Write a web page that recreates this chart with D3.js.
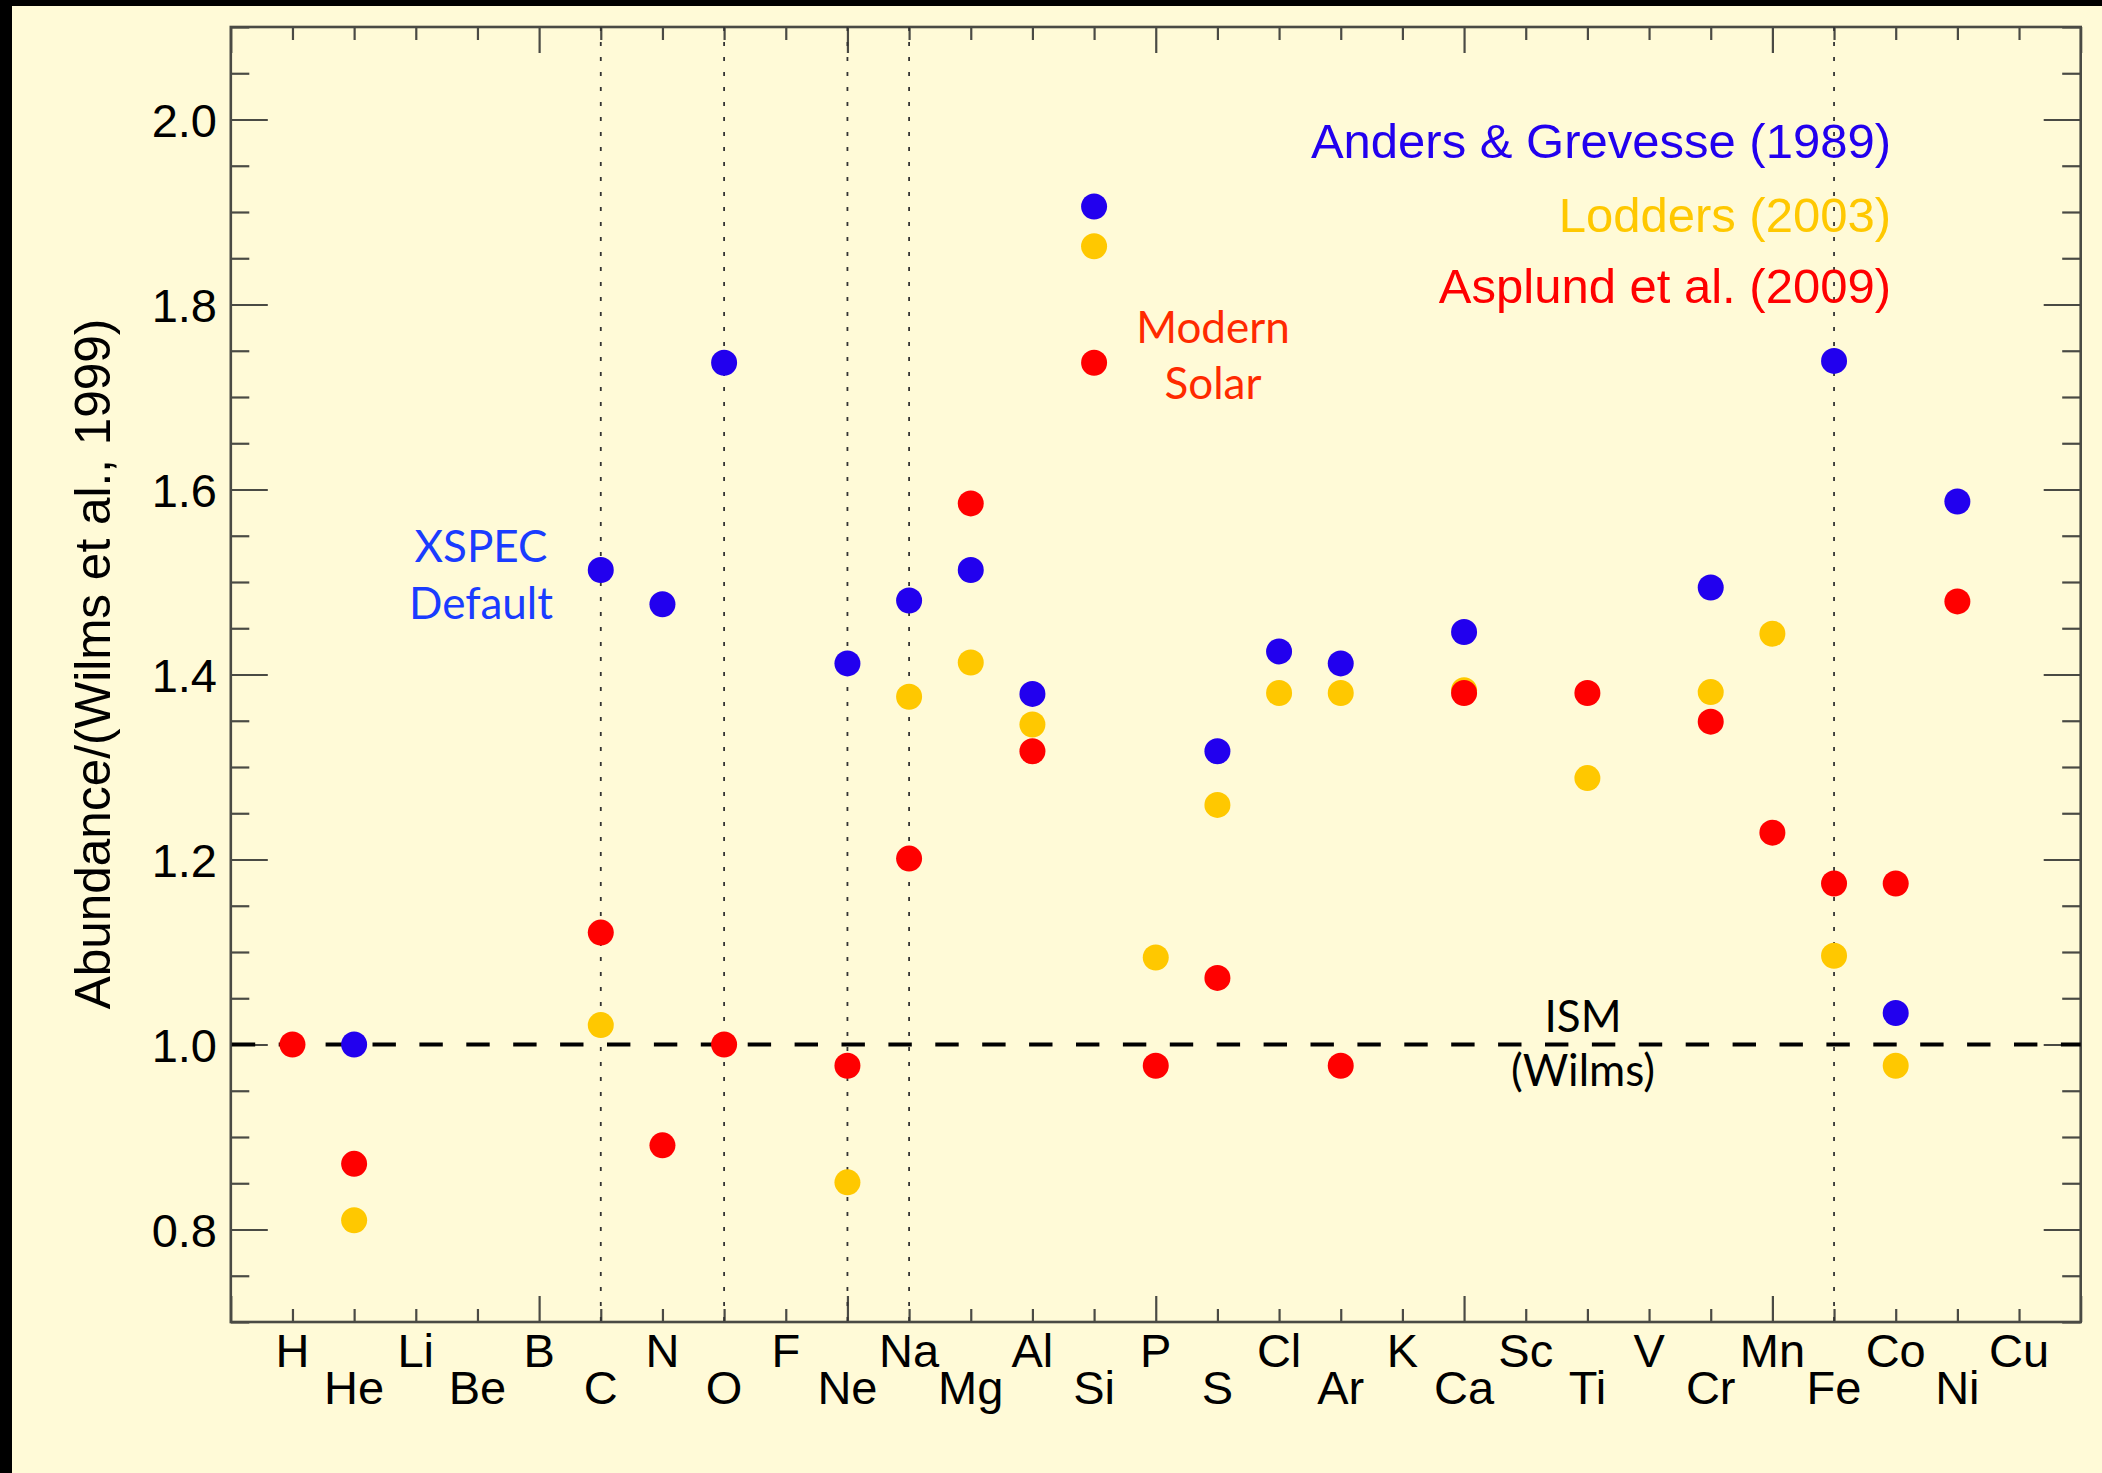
<!DOCTYPE html>
<html>
<head>
<meta charset="utf-8">
<script src="https://cdn.jsdelivr.net/npm/d3@7"></script>
<style>
  html, body { margin: 0; padding: 0; background: #000; }
  svg { display: block; }
</style>
</head>
<body>
<svg id="chart" width="2102" height="1473"></svg>
<script>
// Element symbols, Z = 1 .. 29
const symbols = ["H","He","Li","Be","B","C","N","O","F","Ne","Na","Mg","Al","Si","P",
                 "S","Cl","Ar","K","Ca","Sc","Ti","V","Cr","Mn","Fe","Co","Ni","Cu"];

// Abundance ratios relative to Wilms et al. (2000) ISM, one entry per symbol (null = not plotted)
const andersGrevesse = [null,1.000,null,null,null,1.513,1.476,1.737,null,1.412,1.480,1.513,1.379,1.906,null,
                        1.317,1.425,1.412,null,1.446,null,null,null,1.494,null,1.739,1.034,1.587,null];
const lodders        = [null,0.810,null,null,null,1.021,null,null,null,0.851,1.376,1.413,1.346,1.863,1.094,
                        1.259,1.380,1.380,null,1.383,null,1.288,null,1.381,1.444,1.096,0.977,null,null];
const asplund        = [1.000,0.871,null,null,null,1.121,0.891,1.000,null,0.977,1.201,1.585,1.317,1.737,0.977,
                        1.072,null,0.977,null,1.380,null,1.380,null,1.349,1.229,1.174,1.174,1.479,null];

const seriesNames = ["Anders & Grevesse (1989)", "Lodders (2003)", "Asplund et al. (2009)"];
const seriesColors = ["#2200ee", "#ffc800", "#ff0000"];

// Elements marked with vertical dotted guides
const guideZ = [6, 8, 10, 11, 26];

// Axis ranges and ticks
const xDomain = [0, 30];
const yDomain = [0.7, 2.1];
const yMajorTicks = [0.8, 1.0, 1.2, 1.4, 1.6, 1.8, 2.0];
const ismLevel = 1.0;

const W = 2102, H = 1473;
const plot = { left: 230.8, right: 2080.7, top: 27, bottom: 1322 };

const svg = d3.select("#chart");

// background and frame band
svg.append("rect").attr("width", W).attr("height", H).attr("fill", "#fffad7");
svg.append("rect").attr("x", 0).attr("y", 0).attr("width", W).attr("height", 6).attr("fill", "#000");
svg.append("rect").attr("x", 0).attr("y", 0).attr("width", 12).attr("height", H).attr("fill", "#000");

const x = d3.scaleLinear().domain(xDomain).range([plot.left, plot.right]);
const y = d3.scaleLinear().domain(yDomain).range([plot.bottom, plot.top]);

const axisColor = "#4a4a44";
const allZ = d3.range(xDomain[0], xDomain[1] + 1);
const majorZ = allZ.filter(z => z % 5 === 0);
const minorZ = allZ.filter(z => z % 5 !== 0);
const yMinor = d3.range(0, 29).map(i => +(0.7 + i * 0.05).toFixed(2))
  .filter(v => !yMajorTicks.some(m => Math.abs(m - v) < 1e-6));

function styleAxis(g) {
  g.select(".domain").remove();
  g.selectAll(".tick line").attr("stroke", axisColor).attr("stroke-width", 2.2);
  g.selectAll(".tick text").remove();
}

// inward ticks on all four sides
const xTickLen = 26, yTickLen = 37;
[[majorZ, xTickLen], [minorZ, xTickLen / 2]].forEach(([vals, len]) => {
  svg.append("g").attr("transform", `translate(0,${plot.bottom})`)
    .call(d3.axisBottom(x).tickValues(vals).tickSize(-len).tickSizeOuter(0)).call(styleAxis);
  svg.append("g").attr("transform", `translate(0,${plot.top})`)
    .call(d3.axisTop(x).tickValues(vals).tickSize(-len).tickSizeOuter(0)).call(styleAxis);
});
[[yMajorTicks, yTickLen], [yMinor, yTickLen / 2]].forEach(([vals, len]) => {
  svg.append("g").attr("transform", `translate(${plot.left},0)`)
    .call(d3.axisLeft(y).tickValues(vals).tickSize(-len).tickSizeOuter(0)).call(styleAxis);
  svg.append("g").attr("transform", `translate(${plot.right},0)`)
    .call(d3.axisRight(y).tickValues(vals).tickSize(-len).tickSizeOuter(0)).call(styleAxis);
});

// plot frame
svg.append("rect")
  .attr("x", plot.left).attr("y", plot.top)
  .attr("width", plot.right - plot.left).attr("height", plot.bottom - plot.top)
  .attr("fill", "none").attr("stroke", axisColor).attr("stroke-width", 2.6);

// vertical dotted guides
svg.append("g").selectAll("line").data(guideZ).join("line")
  .attr("x1", d => x(d)).attr("x2", d => x(d))
  .attr("y1", plot.top).attr("y2", plot.bottom)
  .attr("stroke", "#333").attr("stroke-width", 1.8)
  .attr("stroke-dasharray", "4 11");

// ISM reference level
svg.append("line")
  .attr("x1", plot.left + 1).attr("x2", plot.right)
  .attr("y1", y(ismLevel)).attr("y2", y(ismLevel))
  .attr("stroke", "#000").attr("stroke-width", 4)
  .attr("stroke-dasharray", "23.4 23.5");

// tick labels
const tickFont = "'Liberation Sans', Arial, Helvetica, sans-serif";
svg.append("g").selectAll("text").data(symbols).join("text")
  .attr("x", (d, i) => x(i + 1))
  .attr("y", (d, i) => (i % 2 === 0 ? 1366.7 : 1404))
  .attr("text-anchor", "middle")
  .attr("font-family", tickFont).attr("font-size", 47).attr("fill", "#000")
  .text(d => d);

svg.append("g").selectAll("text").data(yMajorTicks).join("text")
  .attr("x", 217).attr("y", d => y(d) + 17)
  .attr("text-anchor", "end")
  .attr("font-family", tickFont).attr("font-size", 47).attr("fill", "#000")
  .text(d => d.toFixed(1));

// y-axis title
svg.append("text")
  .attr("transform", "translate(110,664) rotate(-90)")
  .attr("text-anchor", "middle")
  .attr("font-family", tickFont).attr("font-size", 49.5).attr("fill", "#000")
  .text("Abundance/(Wilms et al., 1999)");

// data points, drawn blue, then gold, then red on top
const series = [andersGrevesse, lodders, asplund];
series.forEach((vals, si) => {
  const pts = vals.map((v, i) => ({ z: i + 1, v })).filter(d => d.v !== null);
  svg.append("g").selectAll("circle").data(pts).join("circle")
    .attr("cx", d => x(d.z)).attr("cy", d => y(d.v)).attr("r", 13)
    .attr("fill", seriesColors[si]);
});

// legend
const legendY = [158.3, 231.7, 303.3];
svg.append("g").selectAll("text").data(seriesNames).join("text")
  .attr("x", 1891).attr("y", (d, i) => legendY[i])
  .attr("text-anchor", "end")
  .attr("font-family", tickFont).attr("font-size", 49).attr("fill", (d, i) => seriesColors[i])
  .text(d => d);

// annotations
const noteFont = "Lato, 'Open Sans', sans-serif";
function note(lines, cx, baselines, color) {
  const t = svg.append("text").attr("text-anchor", "middle")
    .attr("font-family", noteFont).attr("font-size", 44).attr("fill", color);
  lines.forEach((s, i) => t.append("tspan").attr("x", cx).attr("y", baselines[i]).text(s));
}
note(["XSPEC", "Default"], 481, [562.3, 619], "#1a3cff");
note(["Modern", "Solar"], 1213, [343.3, 399.3], "#ff2a00");
note(["ISM", "(Wilms)"], 1583, [1031.7, 1086], "#000");
</script>
</body>
</html>
